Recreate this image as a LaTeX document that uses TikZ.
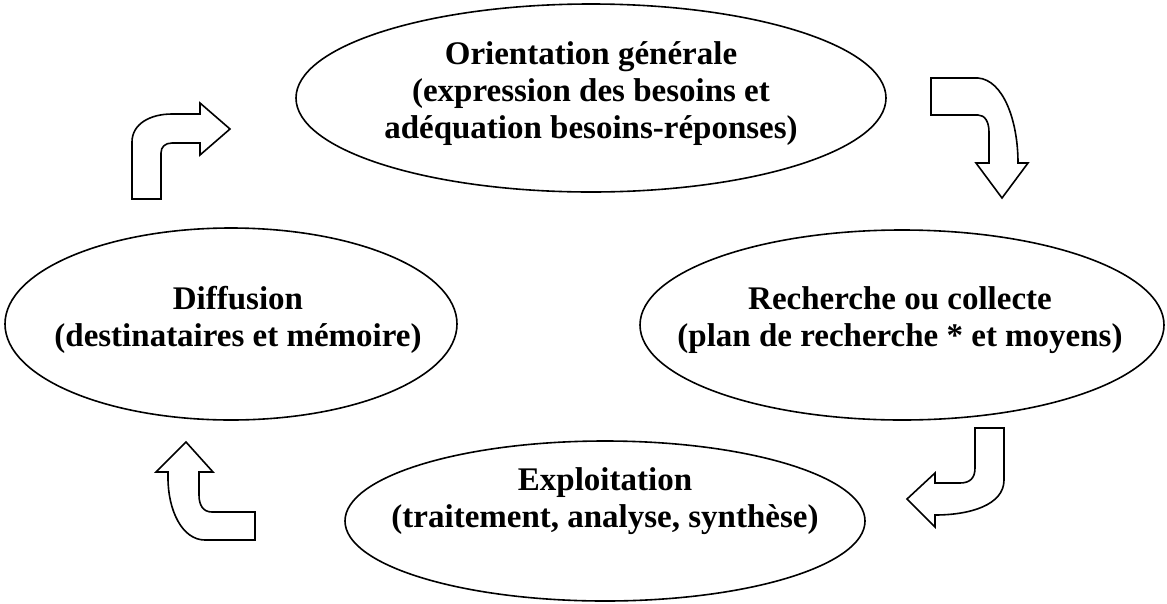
\documentclass[tikz,border=0pt]{standalone}
\usepackage{fontspec}
\setmainfont{Liberation Serif}
\usetikzlibrary{shapes.geometric}
\begin{document}
\begin{tikzpicture}[x=1pt,y=-1pt,
  oval/.style={draw=black,line width=1.6pt,ellipse,inner sep=0pt},
  lbl/.style={align=center,font=\fontsize{33}{37}\selectfont\bfseries,inner sep=0pt},
  blockarrow/.style={draw=black,fill=white,line width=1.6pt,line join=miter}]
\useasboundingbox (0,0) rectangle (1167,603);
% ellipses
\node[oval,minimum width=590pt,minimum height=188pt] (orient) at (591,98) {};
\node[oval,minimum width=452pt,minimum height=192pt] (diff) at (231,324) {};
\node[oval,minimum width=524pt,minimum height=190pt] (rech) at (902,325) {};
\node[oval,minimum width=520pt,minimum height=160pt] (expl) at (605,521) {};
% texts
\node[lbl] (torient) at (591,94) {Orientation générale\\(expression des besoins et\\adéquation besoins-réponses)};
\node[lbl] (tdiff) at (238,320) {Diffusion\\(destinataires et mémoire)};
\node[lbl] (trech) at (900,320) {Recherche ou collecte\\(plan de recherche * et moyens)};
\node[lbl] (texpl) at (605,501) {Exploitation\\(traitement, analyse, synthèse)};
% block arrows
\draw[blockarrow] (132,199) -- (132,142) .. controls (132,124) and (150,114) .. (172,114)
  -- (200,114) -- (200,103) -- (230,129) -- (200,155) -- (200,143) -- (172,143)
  .. controls (165,143) and (161,147) .. (161,153) -- (161,199) -- cycle;
\draw[blockarrow] (931,78) -- (978,78) .. controls (1003,80) and (1018,120) .. (1018,163)
  -- (1028,163) -- (1002,198) -- (976,163) -- (989,163) -- (989,132)
  .. controls (989,122) and (985,115) .. (978,115) -- (931,115) -- cycle;
\draw[blockarrow] (975,428) -- (1004,428) -- (1004,480) .. controls (1004,505) and (970,515) .. (935,515)
  -- (935,527) -- (907,499) -- (935,473) -- (935,483) -- (960,483)
  .. controls (970,483) and (975,478) .. (975,468) -- cycle;
\draw[blockarrow] (255,512) -- (255,540) -- (205,540) .. controls (182,540) and (168,510) .. (168,478)
  -- (168,472) -- (156,472) -- (186,442) -- (213,472) -- (199,472) -- (199,495)
  .. controls (199,505) and (203,512) .. (212,512) -- cycle;
\end{tikzpicture}
\end{document}
